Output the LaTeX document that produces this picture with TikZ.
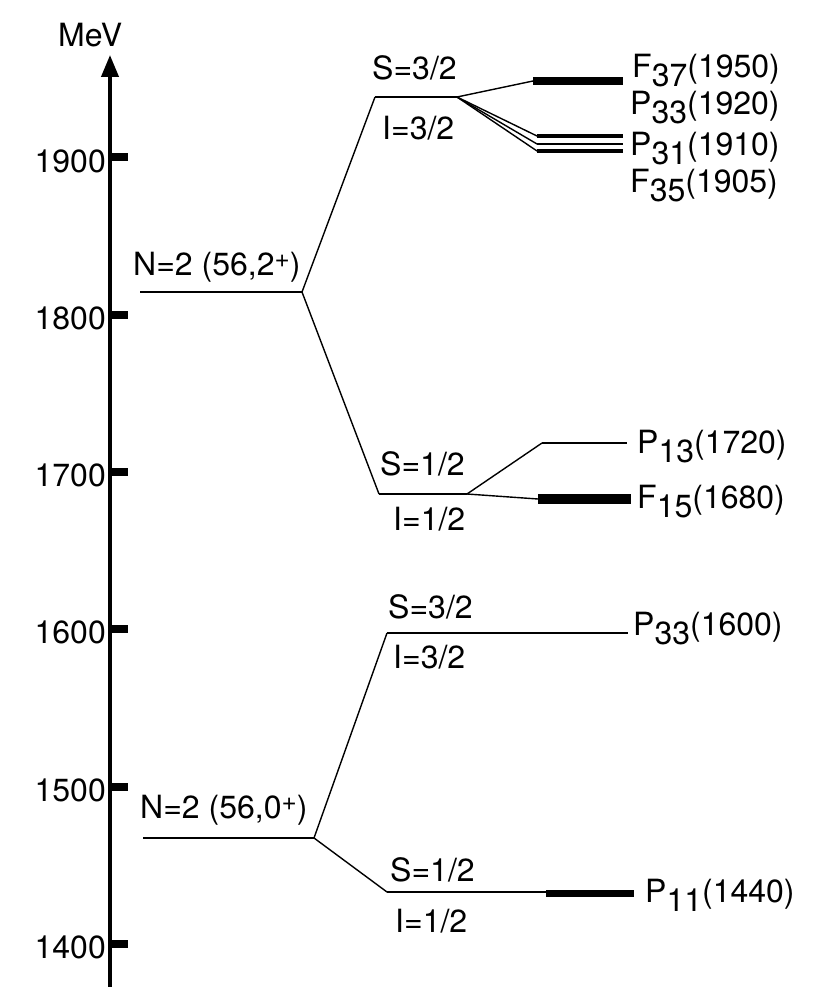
\documentclass[tikz,border=0pt]{standalone}
\usepackage{fontspec}
\setmainfont{TeX Gyre Heros}
\usetikzlibrary{arrows.meta}
\newcommand\lsb[1]{\raisebox{-9pt}{#1}}
\newcommand\usp[1]{\raisebox{8pt}{\fontsize{26}{26}\selectfont #1}}
\begin{document}
\begin{tikzpicture}[x=1pt,y=-1pt,
  lvl/.style={line width=1.6pt},
  br/.style={line width=1.4pt},
  lbl/.style={inner sep=0pt, anchor=base west, font=\fontsize{32}{38}\selectfont},
  num/.style={inner sep=0pt, anchor=base east, font=\fontsize{32}{38}\selectfont},
  tick/.style={line width=8pt}]
\useasboundingbox (0,0) rectangle (830,987);
% axis
\coordinate (ax0) at (110,987);
\coordinate (ax1) at (110,55);
\draw[line width=4pt, -{Triangle[width=17pt,length=22pt]}] (ax0) -- (ax1);
\node[lbl] (mev) at (58,47) {MeV};
% ticks
\foreach \v/\y in {1400/944,1500/786.7,1600/629.4,1700/472.1,1800/314.8,1900/157.5}{
  \coordinate (t\v a) at (110,\y);
  \coordinate (t\v b) at (128,\y);
  \draw[tick] (t\v a) -- (t\v b);
  \node[num] (n\v) at (106,\y+14.5) {\v};
}
% coordinates of levels
\coordinate (A0) at (143,838); \coordinate (A1) at (314,838);
\coordinate (B0) at (387,892); \coordinate (B1) at (546,892);
\coordinate (B2) at (546,893); \coordinate (B3) at (634,893);
\coordinate (C0) at (387,633); \coordinate (C1) at (628,633);
\coordinate (D0) at (140,292); \coordinate (D1) at (302,292);
\coordinate (E0) at (375,97);  \coordinate (E1) at (457,97);
\coordinate (G0) at (379,494); \coordinate (G1) at (467,494);
\coordinate (H0) at (542,443); \coordinate (H1) at (627,443);
\coordinate (J0) at (538,499); \coordinate (J1) at (631,499);
\coordinate (K0) at (533,81);  \coordinate (K1) at (623,81);
\coordinate (L0) at (537,136); \coordinate (L1) at (623,136);
\coordinate (M0) at (537,144); \coordinate (M1) at (623,144);
\coordinate (Q0) at (537,151); \coordinate (Q1) at (623,151);
% lower multiplet
\draw[lvl] (A0) -- (A1);
\draw[br] (A1) -- (C0);
\draw[br] (A1) -- (B0);
\draw[lvl] (C0) -- (C1);
\draw[lvl] (B0) -- (B1);
\draw[line width=7pt] (B2) -- (B3);
% upper multiplet
\draw[lvl] (D0) -- (D1);
\draw[br] (D1) -- (E0);
\draw[br] (D1) -- (G0);
\draw[lvl] (E0) -- (E1);
\draw[lvl] (G0) -- (G1);
\draw[br] (G1) -- (H0);
\draw[lvl] (H0) -- (H1);
\draw[br] (G1) -- (J0);
\draw[line width=10pt] (J0) -- (J1);
\draw[br] (E1) -- (K0);
\draw[line width=8pt] (K0) -- (K1);
\draw[br] (E1) -- (L0);
\draw[line width=4pt] (L0) -- (L1);
\draw[br] (E1) -- (M0);
\draw[line width=2pt] (M0) -- (M1);
\draw[br] (E1) -- (Q0);
\draw[line width=4pt] (Q0) -- (Q1);
% labels
\node[lbl] (lN2) at (133,275) {N=2 (56,2\usp{+})};
\node[lbl] (lN0) at (140,818) {N=2 (56,0\usp{+})};
\node[lbl] (sU3) at (372,80) {S=3/2};
\node[lbl] (iU3) at (382,140) {I=3/2};
\node[lbl] (sU1) at (380,475) {S=1/2};
\node[lbl] (iU1) at (393,530) {I=1/2};
\node[lbl] (sL3) at (388,618) {S=3/2};
\node[lbl] (iL3) at (393,668) {I=3/2};
\node[lbl] (sL1) at (390,881) {S=1/2};
\node[lbl] (iL1) at (395,932) {I=1/2};
\node[lbl] (f37) at (632,78) {F\lsb{37}(1950)};
\node[lbl] (p33u) at (630,115) {P\lsb{33}(1920)};
\node[lbl] (p31) at (630,156) {P\lsb{31}(1910)};
\node[lbl] (f35) at (630,193) {F\lsb{35}(1905)};
\node[lbl] (p13) at (637,453) {P\lsb{13}(1720)};
\node[lbl] (f15) at (637,508) {F\lsb{15}(1680)};
\node[lbl] (p33) at (633,635) {P\lsb{33}(1600)};
\node[lbl] (p11) at (645,902) {P\lsb{11}(1440)};
\end{tikzpicture}
\end{document}
